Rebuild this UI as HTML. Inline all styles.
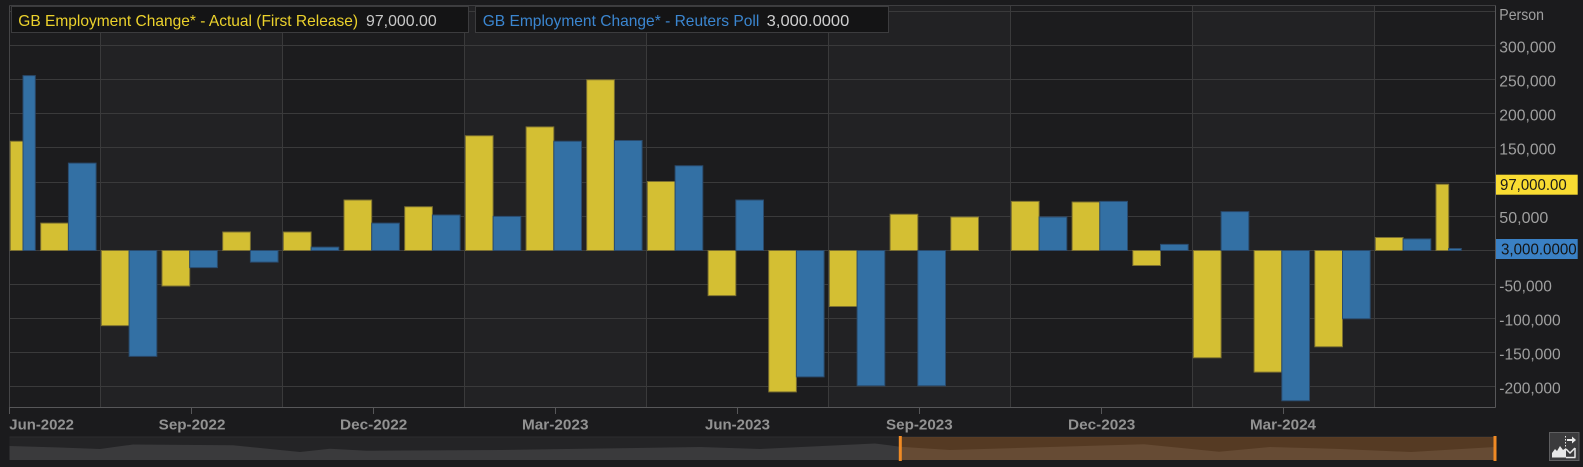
<!DOCTYPE html>
<html>
<head>
<meta charset="utf-8">
<style>
html,body{margin:0;padding:0;background:#1b1b1d;}
svg{display:block;}
text{font-family:"Liberation Sans",Arial,sans-serif;}
</style>
</head>
<body>
<svg width="1583" height="467" viewBox="0 0 1583 467" xmlns="http://www.w3.org/2000/svg">
  <rect x="0" y="0" width="1583" height="467" fill="#1b1b1d"/>
  <!-- plot bands -->
  <rect x="9.5" y="5.5" width="91" height="401.5" fill="#1c1c1e"/>
  <rect x="100.5" y="5.5" width="182" height="401.5" fill="#222224"/>
  <rect x="282.5" y="5.5" width="182" height="401.5" fill="#1c1c1e"/>
  <rect x="464.5" y="5.5" width="182" height="401.5" fill="#222224"/>
  <rect x="646.5" y="5.5" width="182" height="401.5" fill="#1c1c1e"/>
  <rect x="828.5" y="5.5" width="182" height="401.5" fill="#222224"/>
  <rect x="1010.5" y="5.5" width="182" height="401.5" fill="#1c1c1e"/>
  <rect x="1192.5" y="5.5" width="182" height="401.5" fill="#222224"/>
  <rect x="1374.5" y="5.5" width="121" height="401.5" fill="#1c1c1e"/>

  <!-- horizontal grid -->
  <g stroke="#3a3a3b" stroke-width="1">
    <line x1="9.5" x2="1495" y1="11.5" y2="11.5"/>
    <line x1="9.5" x2="1495" y1="45.5" y2="45.5"/>
    <line x1="9.5" x2="1495" y1="79.5" y2="79.5"/>
    <line x1="9.5" x2="1495" y1="113.5" y2="113.5"/>
    <line x1="9.5" x2="1495" y1="147.5" y2="147.5"/>
    <line x1="9.5" x2="1495" y1="182.5" y2="182.5"/>
    <line x1="9.5" x2="1495" y1="216.5" y2="216.5"/>
    <line x1="9.5" x2="1495" y1="250.5" y2="250.5"/>
    <line x1="9.5" x2="1495" y1="284.5" y2="284.5"/>
    <line x1="9.5" x2="1495" y1="318.5" y2="318.5"/>
    <line x1="9.5" x2="1495" y1="352.5" y2="352.5"/>
    <line x1="9.5" x2="1495" y1="386.5" y2="386.5"/>
  </g>
  <!-- vertical grid -->
  <g stroke="#3a3a3b" stroke-width="1">
    <line x1="100.5" x2="100.5" y1="5.5" y2="407"/>
    <line x1="282.5" x2="282.5" y1="5.5" y2="407"/>
    <line x1="464.5" x2="464.5" y1="5.5" y2="407"/>
    <line x1="646.5" x2="646.5" y1="5.5" y2="407"/>
    <line x1="828.5" x2="828.5" y1="5.5" y2="407"/>
    <line x1="1010.5" x2="1010.5" y1="5.5" y2="407"/>
    <line x1="1192.5" x2="1192.5" y1="5.5" y2="407"/>
    <line x1="1374.5" x2="1374.5" y1="5.5" y2="407"/>
  </g>
  <!-- borders -->
  <line x1="9.5" x2="1495.5" y1="5.5" y2="5.5" stroke="#3e3e40"/>
  <line x1="9.5" x2="9.5" y1="5.5" y2="407" stroke="#444446"/>
  <line x1="1495.5" x2="1495.5" y1="5.5" y2="407.5" stroke="#575759"/>
  <line x1="9.5" x2="1495.5" y1="407.5" y2="407.5" stroke="#575759"/>

  <!-- bars -->
  <g transform="translate(0,250.5) scale(1,-0.683)">
    <g fill="#d4bf33" stroke="#7c7030" stroke-width="1" vector-effect="non-scaling-stroke">
      <rect vector-effect="non-scaling-stroke" x="10.3" width="12.7" y="0" height="160"/>
      <rect vector-effect="non-scaling-stroke" x="40.7" width="27.7" y="0" height="40"/>
      <rect vector-effect="non-scaling-stroke" x="101.4" width="27.7" y="-110" height="110"/>
      <rect vector-effect="non-scaling-stroke" x="162" width="27.7" y="-52" height="52"/>
      <rect vector-effect="non-scaling-stroke" x="222.7" width="27.7" y="0" height="27"/>
      <rect vector-effect="non-scaling-stroke" x="283.4" width="27.7" y="0" height="27"/>
      <rect vector-effect="non-scaling-stroke" x="344" width="27.7" y="0" height="74"/>
      <rect vector-effect="non-scaling-stroke" x="404.7" width="27.7" y="0" height="64"/>
      <rect vector-effect="non-scaling-stroke" x="465.4" width="27.7" y="0" height="168"/>
      <rect vector-effect="non-scaling-stroke" x="526.1" width="27.7" y="0" height="181"/>
      <rect vector-effect="non-scaling-stroke" x="586.7" width="27.7" y="0" height="250"/>
      <rect vector-effect="non-scaling-stroke" x="647.4" width="27.7" y="0" height="101"/>
      <rect vector-effect="non-scaling-stroke" x="708.1" width="27.7" y="-66" height="66"/>
      <rect vector-effect="non-scaling-stroke" x="768.7" width="27.7" y="-207" height="207"/>
      <rect vector-effect="non-scaling-stroke" x="829.4" width="27.7" y="-82" height="82"/>
      <rect vector-effect="non-scaling-stroke" x="890.1" width="27.7" y="0" height="53"/>
      <rect vector-effect="non-scaling-stroke" x="950.8" width="27.7" y="0" height="49"/>
      <rect vector-effect="non-scaling-stroke" x="1011.4" width="27.7" y="0" height="72"/>
      <rect vector-effect="non-scaling-stroke" x="1072.1" width="27.7" y="0" height="71"/>
      <rect vector-effect="non-scaling-stroke" x="1132.8" width="27.7" y="-22" height="22"/>
      <rect vector-effect="non-scaling-stroke" x="1193.4" width="27.7" y="-157" height="157"/>
      <rect vector-effect="non-scaling-stroke" x="1254.1" width="27.7" y="-178" height="178"/>
      <rect vector-effect="non-scaling-stroke" x="1314.8" width="27.7" y="-141" height="141"/>
      <rect vector-effect="non-scaling-stroke" x="1375.4" width="27.7" y="0" height="19"/>
      <rect vector-effect="non-scaling-stroke" x="1436" width="12.7" y="0" height="97"/>
    </g>
    <g fill="#3370a4" stroke="#2a4a6c" stroke-width="1">
      <rect vector-effect="non-scaling-stroke" x="23" width="12.3" y="0" height="256"/>
      <rect vector-effect="non-scaling-stroke" x="68.4" width="27.7" y="0" height="128"/>
      <rect vector-effect="non-scaling-stroke" x="129.1" width="27.7" y="-155" height="155"/>
      <rect vector-effect="non-scaling-stroke" x="189.7" width="27.7" y="-25" height="25"/>
      <rect vector-effect="non-scaling-stroke" x="250.4" width="27.7" y="-17" height="17"/>
      <rect vector-effect="non-scaling-stroke" x="311.1" width="27.7" y="0" height="5"/>
      <rect vector-effect="non-scaling-stroke" x="371.7" width="27.7" y="0" height="40"/>
      <rect vector-effect="non-scaling-stroke" x="432.4" width="27.7" y="0" height="52"/>
      <rect vector-effect="non-scaling-stroke" x="493.1" width="27.7" y="0" height="50"/>
      <rect vector-effect="non-scaling-stroke" x="553.8" width="27.7" y="0" height="160"/>
      <rect vector-effect="non-scaling-stroke" x="614.4" width="27.7" y="0" height="161"/>
      <rect vector-effect="non-scaling-stroke" x="675.1" width="27.7" y="0" height="124"/>
      <rect vector-effect="non-scaling-stroke" x="735.8" width="27.7" y="0" height="74"/>
      <rect vector-effect="non-scaling-stroke" x="796.4" width="27.7" y="-185" height="185"/>
      <rect vector-effect="non-scaling-stroke" x="857.1" width="27.7" y="-198" height="198"/>
      <rect vector-effect="non-scaling-stroke" x="917.8" width="27.7" y="-198" height="198"/>
      <rect vector-effect="non-scaling-stroke" x="1039.1" width="27.7" y="0" height="49"/>
      <rect vector-effect="non-scaling-stroke" x="1099.8" width="27.7" y="0" height="72"/>
      <rect vector-effect="non-scaling-stroke" x="1160.5" width="27.7" y="0" height="9"/>
      <rect vector-effect="non-scaling-stroke" x="1221.1" width="27.7" y="0" height="57"/>
      <rect vector-effect="non-scaling-stroke" x="1281.8" width="27.7" y="-220" height="220"/>
      <rect vector-effect="non-scaling-stroke" x="1342.5" width="27.7" y="-100" height="100"/>
      <rect vector-effect="non-scaling-stroke" x="1403.1" width="27.7" y="0" height="17"/>
      <rect vector-effect="non-scaling-stroke" x="1448.7" width="12.6" y="0" height="3"/>
    </g>
  </g>

  <!-- legend boxes -->
  <rect x="11.5" y="6.5" width="457" height="26" fill="#141415" stroke="#3c3c3e"/>
  <text x="18.3" y="26" font-size="16" fill="#ecd22c" textLength="339.7" lengthAdjust="spacingAndGlyphs">GB Employment Change* - Actual (First Release)</text>
  <text x="366" y="26" font-size="16" fill="#c8c8c8" textLength="70.7" lengthAdjust="spacingAndGlyphs">97,000.00</text>

  <rect x="475.5" y="6.5" width="413" height="26" fill="#141415" stroke="#3c3c3e"/>
  <text x="482.7" y="26" font-size="16" fill="#3b86d0" textLength="276.6" lengthAdjust="spacingAndGlyphs">GB Employment Change* - Reuters Poll</text>
  <text x="766.7" y="26" font-size="16" fill="#d0d0d0" textLength="82.6" lengthAdjust="spacingAndGlyphs">3,000.0000</text>

  <!-- y-axis labels -->
  <g font-size="16" fill="#a0a0a0">
    <text x="1499.3" y="20" textLength="44.7" lengthAdjust="spacingAndGlyphs">Person</text>
    <text x="1499.3" y="52.3" textLength="56.7" lengthAdjust="spacingAndGlyphs">300,000</text>
    <text x="1499.3" y="86.3" textLength="56.7" lengthAdjust="spacingAndGlyphs">250,000</text>
    <text x="1499.3" y="120.3" textLength="56.7" lengthAdjust="spacingAndGlyphs">200,000</text>
    <text x="1499.3" y="154.3" textLength="56.7" lengthAdjust="spacingAndGlyphs">150,000</text>
    <text x="1499.3" y="223" textLength="49" lengthAdjust="spacingAndGlyphs">50,000</text>
    <text x="1499.3" y="291.3" textLength="52.5" lengthAdjust="spacingAndGlyphs">-50,000</text>
    <text x="1499.3" y="325.3" textLength="61.4" lengthAdjust="spacingAndGlyphs">-100,000</text>
    <text x="1499.3" y="359.3" textLength="61.4" lengthAdjust="spacingAndGlyphs">-150,000</text>
    <text x="1499.3" y="393.3" textLength="61.4" lengthAdjust="spacingAndGlyphs">-200,000</text>
  </g>
  <!-- value tags -->
  <rect x="1496" y="174.7" width="81.7" height="20" fill="#f9dc32"/>
  <text x="1500" y="189.8" font-size="16" fill="#1a1a1a" textLength="66.7" lengthAdjust="spacingAndGlyphs">97,000.00</text>
  <rect x="1496" y="239" width="81.7" height="20" fill="#3a80c4"/>
  <text x="1501" y="254.3" font-size="16" fill="#141414" textLength="75.7" lengthAdjust="spacingAndGlyphs">3,000.0000</text>

  <!-- x-axis ticks -->
  <g stroke="#575759">
    <line x1="9.5" x2="9.5" y1="407" y2="414"/>
    <line x1="191.5" x2="191.5" y1="407" y2="414"/>
    <line x1="373.5" x2="373.5" y1="407" y2="414"/>
    <line x1="555.5" x2="555.5" y1="407" y2="414"/>
    <line x1="737.5" x2="737.5" y1="407" y2="414"/>
    <line x1="919.5" x2="919.5" y1="407" y2="414"/>
    <line x1="1101.5" x2="1101.5" y1="407" y2="414"/>
    <line x1="1283.5" x2="1283.5" y1="407" y2="414"/>
  </g>
  <g font-size="15" font-weight="bold" fill="#929292">
    <text x="9.3" y="429.3" textLength="64.7" lengthAdjust="spacingAndGlyphs">Jun-2022</text>
    <text x="158.7" y="429.3" textLength="66.7" lengthAdjust="spacingAndGlyphs">Sep-2022</text>
    <text x="340" y="429.3" textLength="67.3" lengthAdjust="spacingAndGlyphs">Dec-2022</text>
    <text x="522" y="429.3" textLength="66.5" lengthAdjust="spacingAndGlyphs">Mar-2023</text>
    <text x="705" y="429.3" textLength="65" lengthAdjust="spacingAndGlyphs">Jun-2023</text>
    <text x="886" y="429.3" textLength="66.7" lengthAdjust="spacingAndGlyphs">Sep-2023</text>
    <text x="1068" y="429.3" textLength="67.3" lengthAdjust="spacingAndGlyphs">Dec-2023</text>
    <text x="1250" y="429.3" textLength="66" lengthAdjust="spacingAndGlyphs">Mar-2024</text>
  </g>

  <!-- navigator -->
  <rect x="9.5" y="437" width="1486" height="23" fill="#242426"/>
  <line x1="9.5" x2="1495.5" y1="437" y2="437" stroke="#2c2c2e"/>
  <polygon fill="#3a3a3c" points="9.5,446 60,447.5 100,449 133,444.5 233,445.3 300,452 330,448.7 367,450.7 500,450 600,448.5 700,447 760,449 875,443.5 900,446.7 950,450 1050,447 1144,444.3 1219,451.7 1270,447 1340,449 1411,452 1495,447 1495,460 9.5,460"/>
  <rect x="900" y="437" width="595" height="23" fill="rgba(250,135,25,0.23)"/>
  <rect x="898.8" y="436" width="3" height="25" fill="#f08a24"/>
  <rect x="1493.5" y="436" width="3" height="25" fill="#f08a24"/>

  <!-- button -->
  <rect x="1549.5" y="432.5" width="29.5" height="28" fill="#3b3b3d" stroke="#5e5e60"/>
  <polygon fill="#e8e8e8" points="1552,457.5 1552,453 1555,449 1557,451 1560,446 1563,450 1566,448 1566,457.5"/>
  <polyline fill="none" stroke="#e8e8e8" stroke-width="1.5" points="1566,449 1570,453 1575,448"/>
  <line x1="1575" y1="448" x2="1575" y2="457.5" stroke="#e8e8e8" stroke-width="1.5"/>
  <line x1="1566" y1="457.5" x2="1575.5" y2="457.5" stroke="#e8e8e8" stroke-width="1.5"/>
  <line x1="1565.5" y1="436" x2="1565.5" y2="447" stroke="#e8e8e8" stroke-width="1" stroke-dasharray="1.5,1.5"/>
  <line x1="1567" y1="440" x2="1572" y2="440" stroke="#e8e8e8" stroke-width="2"/>
  <polygon fill="#e8e8e8" points="1572,436.5 1576,440 1572,443.5"/>
</svg>
</body>
</html>
